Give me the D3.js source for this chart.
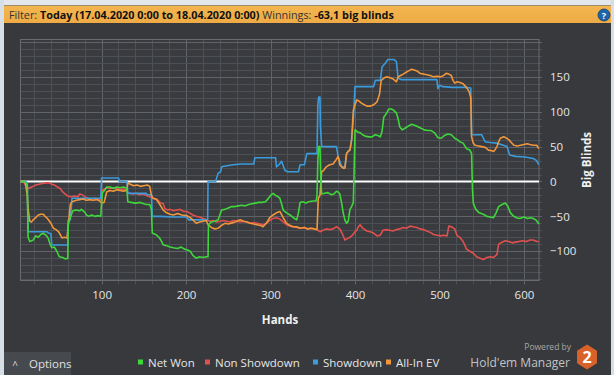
<!DOCTYPE html>
<html><head><meta charset="utf-8">
<script src="https://cdn.jsdelivr.net/npm/d3@7"></script>
<style>
html,body{margin:0;padding:0;background:#37393c;overflow:hidden}
svg{display:block}
text{font-family:"Open Sans","Noto Sans",sans-serif}
</style></head><body>
<svg id="c" width="614" height="375"></svg>
<script>
// ---------------- data ----------------
const seriesNames = ["Net Won","Non Showdown","Showdown","All-In EV"];
const seriesColors = ["#3fd63b","#e0504f","#3b9bdc","#f0963c"];
const xTickValues = [100,200,300,400,500,600];
const yTickValues = [-100,-50,0,50,100,150];
const headerParts = [["Filter: ",false],["Today (17.04.2020 0:00 to 18.04.2020 0:00)",true],[" Winnings: ",false],["-63,1 big blinds",true]];

const netWon = [[4,0],[9,0],[12,-5],[13,-80],[15,-86],[19,-84],[22,-78],[25,-80],[28,-76],[31,-74],[35,-78],[37,-82],[39,-90],[41,-95],[44,-94],[47,-100],[50,-108],[54,-109],[57,-111],[60,-110],[60.5,-60],[62,-55],[64,-48],[66,-42],[70,-41],[74,-42],[76,-40],[80,-44],[82,-48],[85,-50],[88,-48],[92,-50],[96,-49],[99,-50],[100,-30],[101,-16],[104,-12],[106,-8],[110,-8],[114,-10],[118,-8],[122,-9],[126,-8],[130,-10],[131,-29],[135,-30],[140,-31],[146,-30],[150,-32],[153,-33],[157,-33],[159,-40],[160,-74],[164,-76],[168,-80],[171,-86],[173,-91],[177,-92],[181,-94],[185,-95],[190,-96],[194,-94],[198,-97],[201,-98],[205,-100],[208,-106],[212,-110],[216,-108],[220,-109],[224,-108],[226,-108],[226.5,-62],[230,-58],[234,-57],[238,-55],[240,-48],[242,-41],[246,-40],[250,-38],[254,-36],[258,-36],[262,-35],[266,-34],[270,-35],[274,-33],[278,-32],[282,-31],[286,-30],[290,-30],[294,-29],[297,-25],[300,-20],[303,-17],[306,-20],[309,-22],[311,-24],[313,-32],[315,-41],[319,-45],[323,-48],[327,-52],[331,-55],[333,-45],[335,-30],[338,-29],[342,-31],[345,-29],[350,-28],[354,-28],[355,-20],[356,30],[357,50],[358.5,50],[359.5,0],[360.5,-18],[364,-17],[368,-16],[372,-19],[375,-18],[378,-14],[380,-15],[382,-18],[384,-30],[386,-45],[388,-55],[390,-60],[392,-57],[394,-40],[396,-36],[398,-30],[399,20],[400,74],[403,71],[406,70],[409,67],[412,65],[416,64],[420,64],[424,67],[427,66],[430,64],[432,72],[434,92],[437,97],[440,104],[443,104],[446,102],[449,98],[451,90],[453,78],[456,74],[460,77],[464,80],[467,82],[472,80],[477,77],[482,74],[486,73],[490,73],[494,70],[498,63],[502,62],[506,66],[510,68],[514,67],[518,62],[521,60],[524,57],[528,55],[532,47],[536,45],[538,40],[539,-10],[540,-31],[543,-40],[547,-45],[552,-47],[556,-50],[560,-51],[564,-52],[567,-45],[570,-36],[574,-33],[578,-31],[581,-36],[584,-45],[587,-49],[591,-52],[595,-53],[600,-51],[604,-53],[608,-52],[611,-53],[614,-55],[616,-58],[617.5,-61]];

const nonShowdown = [[4,0],[8,-1],[11,-8],[14,-10],[17,-8],[19,-7],[22,-5],[26,-4],[30,-3],[34,-2],[38,-2],[41,-4],[44,-5],[48,-8],[51,-10],[54,-15],[57,-18],[60,-21],[64,-22],[68,-21],[72,-22],[74,-18],[77,-19],[80,-22],[84,-24],[88,-25],[92,-24],[96,-26],[99,-25],[100,-13],[103,-11],[106,-9],[110,-10],[114,-9],[118,-10],[122,-12],[126,-11],[130,-15],[133,-17],[137,-18],[141,-17],[145,-19],[149,-18],[153,-20],[157,-22],[161,-24],[165,-25],[169,-30],[173,-32],[175,-39],[178,-41],[181,-40],[185,-42],[189,-41],[193,-40],[197,-43],[201,-43],[204,-45],[208,-48],[212,-50],[216,-51],[220,-53],[224,-55],[228,-57],[232,-56],[236,-58],[240,-57],[244,-56],[248,-57],[252,-58],[256,-56],[260,-57],[264,-58],[268,-57],[272,-58],[276,-60],[280,-59],[284,-60],[288,-61],[292,-62],[295,-60],[299,-56],[303,-53],[307,-52],[311,-54],[315,-58],[319,-62],[323,-64],[327,-65],[331,-66],[335,-67],[340,-66],[344,-68],[348,-67],[352,-68],[356,-70],[359,-72],[362,-70],[366,-68],[370,-69],[374,-68],[378,-65],[382,-68],[385,-75],[388,-84],[391,-82],[394,-80],[397,-77],[400,-72],[402,-70],[404,-65],[406,-62],[409,-67],[414,-71],[418,-72],[422,-74],[426,-78],[430,-77],[433,-70],[437,-69],[441,-70],[445,-71],[449,-69],[453,-68],[457,-66],[461,-67],[465,-64],[469,-65],[473,-66],[477,-68],[481,-69],[485,-71],[489,-73],[493,-76],[497,-77],[501,-78],[505,-77],[509,-78],[511,-64],[514,-65],[518,-68],[521,-78],[524,-80],[528,-86],[532,-97],[536,-100],[540,-103],[544,-108],[548,-110],[552,-112],[556,-109],[560,-108],[564,-109],[568,-105],[570,-90],[574,-87],[578,-85],[582,-86],[586,-88],[590,-87],[594,-86],[598,-85],[603,-86],[607,-84],[611,-84],[615,-86],[617.5,-86]];

const showdown = [[4,0],[10,0],[12,-2],[13,-72],[20,-72],[30,-72],[35,-72],[37,-74],[40,-75],[41,-91],[50,-91],[60,-91],[60.5,-55],[63,-55],[65,-24],[75,-24],[85,-24],[99,-24],[100,5],[110,5],[120,5],[121,0],[130,0],[131,-17],[145,-17],[153,-17],[154,-19],[159,-19],[160,-50],[170,-50],[185,-51],[201,-51],[203,-55],[215,-55],[225.5,-55],[226,0],[235,0],[238,12],[241,14],[242,21],[250,23],[256,24],[265,25],[280,25],[281.5,34],[295,34],[306,34],[307,21],[310,24],[313,29],[317,16],[320,14],[333,14],[335,24],[340,24],[343,40],[354,40],[355,40],[356,110],[357,121],[358.5,121],[359,80],[360.5,50],[370,50],[378,50],[380,36],[384,22],[388,20],[390,40],[392,44],[394,45],[396,60],[398,88],[400,136],[410,136],[422,136],[424,145],[430,145],[432,164],[436,170],[439,175],[446,175],[449,172],[451,148],[455,146],[470,146],[490,146],[497,146],[498,133],[500,138],[504,136],[515,135],[530,135],[537,134],[538,67],[550,67],[554,57],[560,56],[568,55],[580,50],[583,38],[590,36],[601,35],[611,33],[615,30],[617.5,24]];

const allInEV = [[4,0],[8,0],[10,-3],[12,-20],[13,-40],[15,-57],[17,-58],[19,-55],[22,-52],[25,-48],[28,-47],[31,-47],[33,-50],[35,-52],[37,-55],[40,-60],[43,-67],[46,-69],[49,-72],[51,-76],[53,-81],[56,-80],[59,-81],[60.5,-65],[62,-45],[63,-33],[65,-29],[70,-27],[74,-26],[78,-25],[82,-27],[86,-26],[90,-27],[94,-26],[98,-28],[100,-31],[103,-30],[106,-15],[110,-13],[114,-14],[118,-12],[122,-13],[126,-14],[130,-12],[131,-2],[134,-4],[138,-6],[142,-5],[146,-7],[150,-6],[154,-5],[157,-7],[159,-20],[161,-24],[165,-26],[169,-33],[173,-41],[177,-45],[181,-47],[185,-48],[190,-46],[195,-48],[201,-49],[205,-52],[208,-55],[212,-60],[216,-58],[220,-57],[224,-56],[226,-62],[230,-66],[234,-68],[238,-67],[242,-63],[246,-60],[250,-61],[256,-59],[260,-57],[264,-55],[268,-57],[272,-58],[276,-60],[280,-61],[284,-62],[288,-63],[291,-65],[295,-60],[299,-52],[303,-48],[307,-45],[311,-43],[315,-52],[319,-60],[323,-63],[327,-65],[331,-65],[335,-67],[340,-66],[344,-68],[348,-67],[352,-68],[355,-69],[356,-40],[356.5,-24],[358.5,-20],[360.5,14],[363,16],[366,21],[370,24],[374,25],[377,30],[380,36],[382,24],[384,21],[386,19],[388,19],[390,40],[392,43],[394,45],[396,60],[398,102],[400,110],[402,117],[405,115],[408,112],[411,110],[414,108],[418,108],[422,110],[426,114],[429,125],[431,145],[434,148],[437,150],[441,149],[445,147],[447,145],[449,143],[451,150],[454,152],[457,154],[461,157],[464,159],[467,161],[470,160],[474,158],[477,155],[481,154],[485,153],[489,152],[493,150],[497,151],[501,150],[505,152],[508,155],[511,154],[514,152],[516,145],[518,141],[521,143],[524,142],[528,140],[532,135],[535,129],[537,120],[538,64],[540,55],[542,52],[546,51],[550,50],[554,49],[558,45],[562,44],[564,43],[566,46],[568,50],[570,57],[572,62],[576,64],[578,63],[582,60],[585,56],[588,52],[592,51],[596,52],[600,53],[604,54],[607,53],[611,52],[615,52],[617.5,47]];

const seriesData = [netWon, nonShowdown, showdown, allInEV];

// ---------------- layout ----------------
const svg = d3.select("#c");
const W = 614, H = 375;
const plot = {l:20.5, r:539, t:39.5, b:280.5};

// frame
svg.append("rect").attr("x",0).attr("y",0).attr("width",W).attr("height",H).attr("fill","#37393c");
svg.append("rect").attr("x",0).attr("y",0).attr("width",W).attr("height",5).attr("fill","#e3e6ea");
svg.append("rect").attr("x",0).attr("y",0).attr("width",4).attr("height",H).attr("fill","#d8dee6");
svg.append("rect").attr("x",611).attr("y",0).attr("width",3).attr("height",H).attr("fill","#d8dee6");

// header bar
const hdr = svg.append("g");
const grad = svg.append("defs").append("linearGradient").attr("id","hg").attr("x1",0).attr("x2",0).attr("y1",0).attr("y2",1);
grad.append("stop").attr("offset","0%").attr("stop-color","#f4b650");
grad.append("stop").attr("offset","100%").attr("stop-color","#eeaa45");
hdr.append("rect").attr("x",4).attr("y",5).attr("width",607).attr("height",18).attr("fill","url(#hg)");
hdr.append("line").attr("x1",4).attr("x2",611).attr("y1",5.5).attr("y2",5.5).attr("stroke","#9b8a6c").attr("stroke-width",1);
const ht = hdr.append("text").attr("x",9).attr("y",18.5).attr("font-size",10.8).attr("fill","#1a1a1a");
headerParts.forEach(p=>{ht.append("tspan").text(p[0]).attr("font-weight",p[1]?"bold":"normal").attr("fill",p[1]?"#111":"#333");});
hdr.append("circle").attr("cx",604).attr("cy",15).attr("r",6).attr("fill","#1d64a8").attr("stroke","#0f3f70").attr("stroke-width",0.8);
hdr.append("text").attr("x",604).attr("y",18.5).attr("text-anchor","middle").attr("font-size",9).attr("font-weight","bold").attr("fill","#fff").text("?");

// scales
const x = d3.scaleLinear().domain([4,617.8]).range([plot.l,plot.r]);
const y = d3.scaleLinear().domain([-142,203.6]).range([plot.b,plot.t]);

// plot background
svg.append("rect").attr("x",plot.l).attr("y",plot.t).attr("width",plot.r-plot.l).attr("height",plot.b-plot.t).attr("fill","#393b3f");

// grid
const g = svg.append("g");
const minorY = d3.range(-140,201,10), minorX = d3.range(20,601,20);
g.selectAll(".mx").data(minorX).join("line").attr("x1",d=>Math.round(x(d))+0.5).attr("x2",d=>Math.round(x(d))+0.5)
  .attr("y1",plot.t).attr("y2",plot.b+4).attr("stroke",d=>d%100===0?"#606367":"#4c4f53").attr("stroke-width",1);
g.selectAll(".my").data(minorY).join("line").attr("y1",d=>Math.round(y(d))+0.5).attr("y2",d=>Math.round(y(d))+0.5)
  .attr("x1",plot.l).attr("x2",plot.r+3).attr("stroke",d=>d%50===0?"#606367":"#4c4f53").attr("stroke-width",1);
svg.append("rect").attr("x",plot.l).attr("y",plot.t).attr("width",plot.r-plot.l).attr("height",plot.b-plot.t)
  .attr("fill","none").attr("stroke","#686b6f").attr("stroke-width",1);

// axes (labels via d3 axes)
const xAxis = d3.axisBottom(x).tickValues(xTickValues).tickSize(0).tickPadding(10);
const xa = svg.append("g").attr("transform",`translate(0,${plot.b})`).call(xAxis);
xa.select(".domain").remove();
xa.selectAll("text").attr("font-size",11.5).attr("fill","#e6e6e6").attr("font-family","'Open Sans',sans-serif");

const yAxis = d3.axisRight(y).tickValues(yTickValues).tickSize(0).tickPadding(11);
const ya = svg.append("g").attr("transform",`translate(${plot.r},0)`).call(yAxis);
ya.select(".domain").remove();
ya.selectAll("text").attr("font-size",11.5).attr("fill","#e6e6e6").attr("font-family","'Open Sans',sans-serif");

svg.append("text").attr("x",280).attr("y",324).attr("text-anchor","middle").attr("font-size",11.5).attr("font-weight","bold").attr("fill","#f0f0f0").text("Hands");
svg.append("text").attr("transform","translate(591,160) rotate(-90)").attr("text-anchor","middle").attr("font-size",11.5).attr("font-weight","bold").attr("fill","#f0f0f0").text("Big Blinds");

// zero line
svg.append("line").attr("x1",plot.l).attr("x2",plot.r).attr("y1",y(0)).attr("y2",y(0)).attr("stroke","#ffffff").attr("stroke-width",2);

// series
const line = d3.line().x(d=>x(d[0])).y(d=>y(d[1]));
const drawOrder = [1,2,3,0];
const sg = svg.append("g");
drawOrder.forEach(i=>{
  sg.append("path").datum(seriesData[i]).attr("d",line).attr("fill","none").attr("stroke",seriesColors[i]).attr("stroke-width",1.6).attr("stroke-linejoin","round");
});

// bottom: options button
svg.append("rect").attr("x",4).attr("y",352).attr("width",67).attr("height",23).attr("fill","#46494d");
svg.append("text").attr("x",15).attr("y",369).attr("text-anchor","middle").attr("font-size",10).attr("fill","#dcdcdc").text("^");
svg.append("text").attr("x",29).attr("y",368).attr("font-size",11.5).attr("fill","#e0e0e0").text("Options");

// legend
const legendX = [138,205,313,386];
const lg = svg.append("g");
seriesNames.forEach((n,i)=>{
  lg.append("rect").attr("x",legendX[i]).attr("y",359.5).attr("width",5).attr("height",5).attr("fill",seriesColors[i]);
  lg.append("text").attr("x",legendX[i]+10).attr("y",366.5).attr("font-size",11.5).attr("fill","#e6e6e6").text(n);
});

// powered by logo
svg.append("text").attr("x",571).attr("y",350).attr("text-anchor","end").attr("font-size",8.5).attr("fill","#a8a8a8").text("Powered by");
svg.append("text").attr("x",570).attr("y",367).attr("text-anchor","end").attr("font-size",12).attr("fill","#c4c4c4").text("Hold'em Manager");
const hx=587, hy=357, hr=12.5;
const hex = d3.range(6).map(k=>{const a=Math.PI/3*k - Math.PI/2; return [hx+hr*Math.cos(a)*0.92, hy+hr*Math.sin(a)];});
svg.append("path").attr("d","M"+hex.map(p=>p.join(",")).join("L")+"Z").attr("fill","#d9622b");
svg.append("text").attr("x",hx).attr("y",hy+6).attr("text-anchor","middle").attr("font-size",16).attr("font-weight","bold").attr("fill","#fff").text("2");
</script></body></html>
